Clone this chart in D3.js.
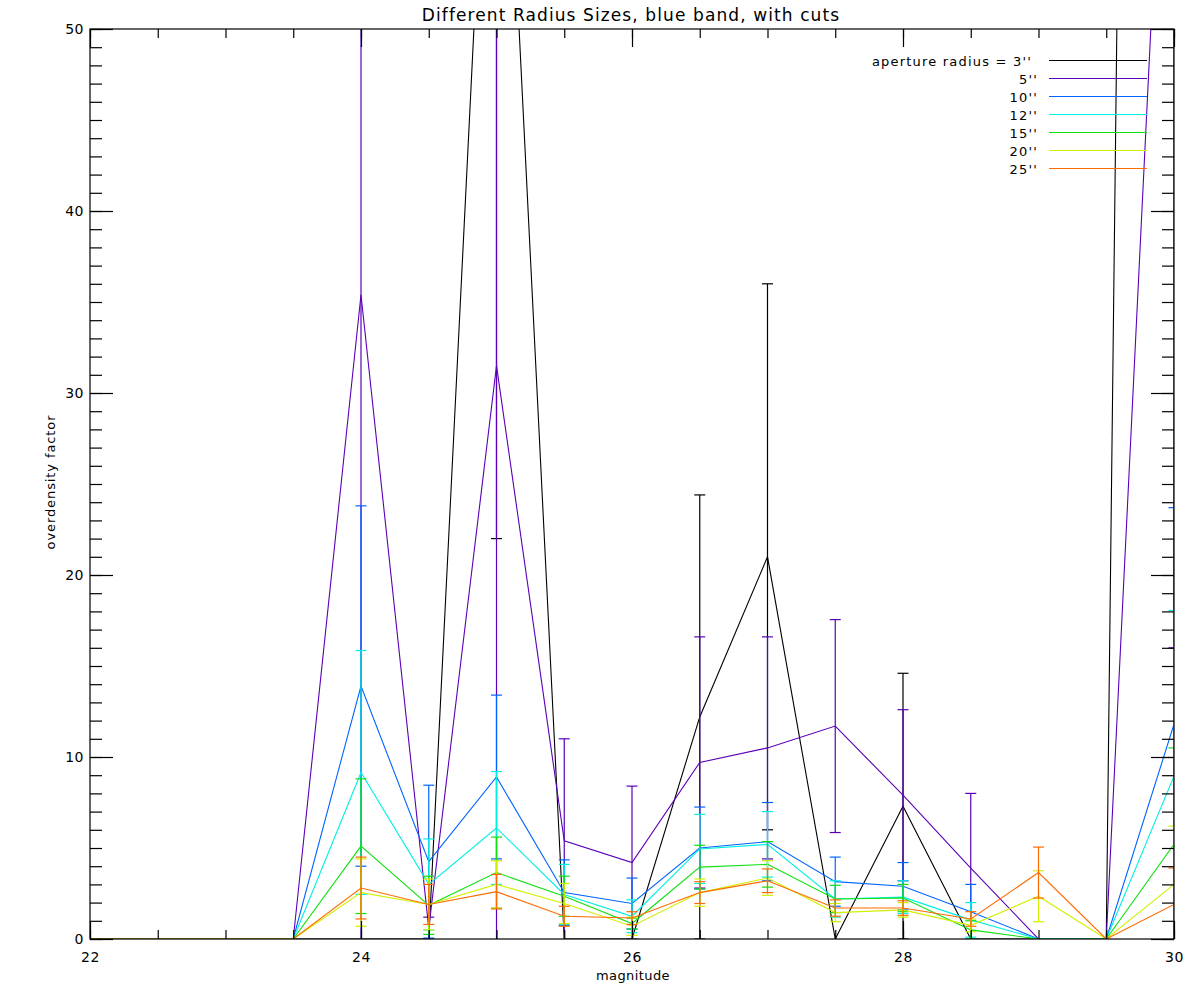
<!DOCTYPE html>
<html><head><meta charset="utf-8">
<script src="https://cdn.jsdelivr.net/npm/d3@7"></script>
<style>
body{margin:0;background:#fff}
svg{display:block}
text{font-family:"DejaVu Sans",sans-serif;fill:#000}
</style>
</head><body>
<svg id="c" width="1200" height="1000"></svg>
<script>
// ---- data ----
const magnitudes = [22,22.5,23,23.5,24,24.5,25,25.5,26,26.5,27,27.5,28,28.5,29,29.5,30];
const seriesLabels = ["aperture radius = 3''","5''","10''","12''","15''","20''","25''"];
const r3    = [0,0,0,0,0,0,75,0,0,12.2,21,0,7.3,0,0,0,320];
const r3err = [0,0,0,0,0,0,53,0,0,12.2,15,0,7.3,0,0,0,200];
const r5    = [0,0,0,0,35.4,0.6,31.5,5.4,4.2,9.7,10.5,11.7,7.9,3.9,0,0,76];
const r5err = [0,0,0,0,36.5,0.6,33,5.6,4.2,6.9,6.1,5.85,4.7,4.1,0,0,60];
const r10    = [0,0,0,0,13.9,4.25,8.9,2.55,1.95,5.0,5.35,3.15,2.9,1.5,0,0,11.8];
const r10err = [0,0,0,0,9.9,4.2,4.5,1.8,1.4,2.25,2.15,1.35,1.3,1.5,0,0,11.9];
const r12    = [0,0,0,0,9.15,3.0,6.1,2.45,1.25,4.95,5.2,2.2,2.3,1.05,0,0,8.95];
const r12err = [0,0,0,0,6.7,2.5,3.1,1.65,0.9,1.9,1.8,1.0,0.9,0.95,0,0,9.1];
const r15    = [0,0,0,0,5.1,1.85,3.65,2.35,0.85,3.95,4.1,2.2,2.25,0.5,0,0,5.2];
const r15err = [0,0,0,0,3.7,1.6,1.95,1.1,0.3,1.2,1.25,0.75,0.75,0.5,0,0,5.3];
const r20    = [0,0,0,0,2.55,1.9,3.0,1.95,0.7,2.55,3.35,1.45,1.6,0.75,2.35,0,3.0];
const r20err = [0,0,0,0,1.85,1.4,1.3,1.1,0.5,0.75,0.95,0.5,0.4,0.35,1.4,0,3.2];
const r25    = [0,0,0,0,2.8,1.9,2.6,1.25,1.15,2.55,3.2,1.7,1.7,1.1,3.65,0,1.9];
const r25err = [0,0,0,0,1.7,1.1,0.95,0.55,0.35,0.6,0.65,0.45,0.4,0.4,1.4,0,2.0];
const xMajorTicks = [22,24,26,28,30];
const yMajorTicks = [0,10,20,30,40,50];

const seriesValues = [r3,r5,r10,r12,r15,r20,r25];
const seriesErrors = [r3err,r5err,r10err,r12err,r15err,r20err,r25err];
const seriesColors = ["#000000","#5a00b8","#0064ff","#00f0e0","#10e010","#d0f000","#ff6a00"];

// ---- layout ----
const L=90,R=1174,T=29,B=939;
const svg = d3.select("#c");
const x = d3.scaleLinear().domain([22,30]).range([L,R]);
const y = d3.scaleLinear().domain([0,50]).range([B,T]);

svg.append("defs").append("clipPath").attr("id","clip")
  .append("rect").attr("x",L).attr("y",T).attr("width",R-L).attr("height",B-T);

const plot = svg.append("g").attr("clip-path","url(#clip)");
const line = d3.line().x(d=>x(d[0])).y(d=>y(d[1]));

seriesValues.forEach((vals,i)=>{
  const col = seriesColors[i];
  const pts = magnitudes.map((m,j)=>[m,vals[j]]);
  plot.append("path").attr("d",line(pts)).attr("fill","none")
    .attr("stroke",col).attr("stroke-width",1.1);
  const g = plot.append("g").attr("stroke",col).attr("stroke-width",1.2);
  magnitudes.forEach((m,j)=>{
    const v = vals[j], e = seriesErrors[i][j];
    if (e<=0) return;
    const px = x(m), y1 = y(v-e), y2 = y(v+e);
    g.append("line").attr("x1",px).attr("x2",px).attr("y1",y1).attr("y2",y2);
    g.append("line").attr("x1",px-5.5).attr("x2",px+5.5).attr("y1",y1).attr("y2",y1);
    g.append("line").attr("x1",px-5.5).attr("x2",px+5.5).attr("y1",y2).attr("y2",y2);
  });
});

// ---- axes ----
const axG = svg.append("g").attr("class","axes");
const xMinor = d3.range(22,30.001,0.5);
const yMinor = d3.range(0,50.001,1);
function styleAxis(g){ g.select(".domain").remove(); g.selectAll("line").attr("stroke","#000").attr("stroke-width",1.2);
  g.selectAll("text").style("font-family","'DejaVu Sans',sans-serif").style("font-size","14px").style("letter-spacing","0.5px").attr("fill","#000"); }

axG.append("g").attr("transform",`translate(0,${B})`)
  .call(d3.axisBottom(x).tickValues(xMinor).tickFormat("").tickSizeInner(-9).tickSizeOuter(0)).call(styleAxis);
axG.append("g").attr("transform",`translate(0,${B})`)
  .call(d3.axisBottom(x).tickValues(xMajorTicks).tickFormat(d3.format("d")).tickSizeInner(-18).tickSizeOuter(0).tickPadding(13)).call(styleAxis);
axG.append("g").attr("transform",`translate(0,${T})`)
  .call(d3.axisTop(x).tickValues(xMinor).tickFormat("").tickSizeInner(-9).tickSizeOuter(0)).call(styleAxis);
axG.append("g").attr("transform",`translate(0,${T})`)
  .call(d3.axisTop(x).tickValues(xMajorTicks).tickFormat("").tickSizeInner(-18).tickSizeOuter(0)).call(styleAxis);
axG.append("g").attr("transform",`translate(${L},0)`)
  .call(d3.axisLeft(y).tickValues(yMinor).tickFormat("").tickSizeInner(-12).tickSizeOuter(0)).call(styleAxis);
axG.append("g").attr("transform",`translate(${L},0)`)
  .call(d3.axisLeft(y).tickValues(yMajorTicks).tickFormat(d3.format("d")).tickSizeInner(-23).tickSizeOuter(0).tickPadding(6)).call(styleAxis);
axG.append("g").attr("transform",`translate(${R},0)`)
  .call(d3.axisRight(y).tickValues(yMinor).tickFormat("").tickSizeInner(-12).tickSizeOuter(0)).call(styleAxis);
axG.append("g").attr("transform",`translate(${R},0)`)
  .call(d3.axisRight(y).tickValues(yMajorTicks).tickFormat("").tickSizeInner(-23).tickSizeOuter(0)).call(styleAxis);

svg.append("rect").attr("x",L).attr("y",T).attr("width",R-L).attr("height",B-T)
  .attr("fill","none").attr("stroke","#000").attr("stroke-width",1.2);

// ---- labels ----
svg.append("text").attr("x",631).attr("y",21).attr("text-anchor","middle")
  .style("font-size","17px").style("letter-spacing","1.1px").text("Different Radius Sizes, blue band, with cuts");
svg.append("text").attr("x",633).attr("y",980).attr("text-anchor","middle")
  .style("font-size","13px").style("letter-spacing","0.4px").text("magnitude");
svg.append("text").attr("transform","translate(55,482) rotate(-90)").attr("text-anchor","middle")
  .style("font-size","13px").style("letter-spacing","0.9px").text("overdensity factor");

// ---- legend ----
const leg = svg.append("g");
seriesLabels.forEach((lab,i)=>{
  const ly = 60.5 + i*18;
  leg.append("text").attr("x", i===0 ? 1032 : 1038).attr("y", ly+5.5).attr("text-anchor","end")
    .style("font-size","13px").style("letter-spacing","1.2px").text(lab);
  leg.append("line").attr("x1",1049).attr("x2",1147).attr("y1",ly).attr("y2",ly)
    .attr("stroke",seriesColors[i]).attr("stroke-width",1.2);
});
</script>
</body></html>
